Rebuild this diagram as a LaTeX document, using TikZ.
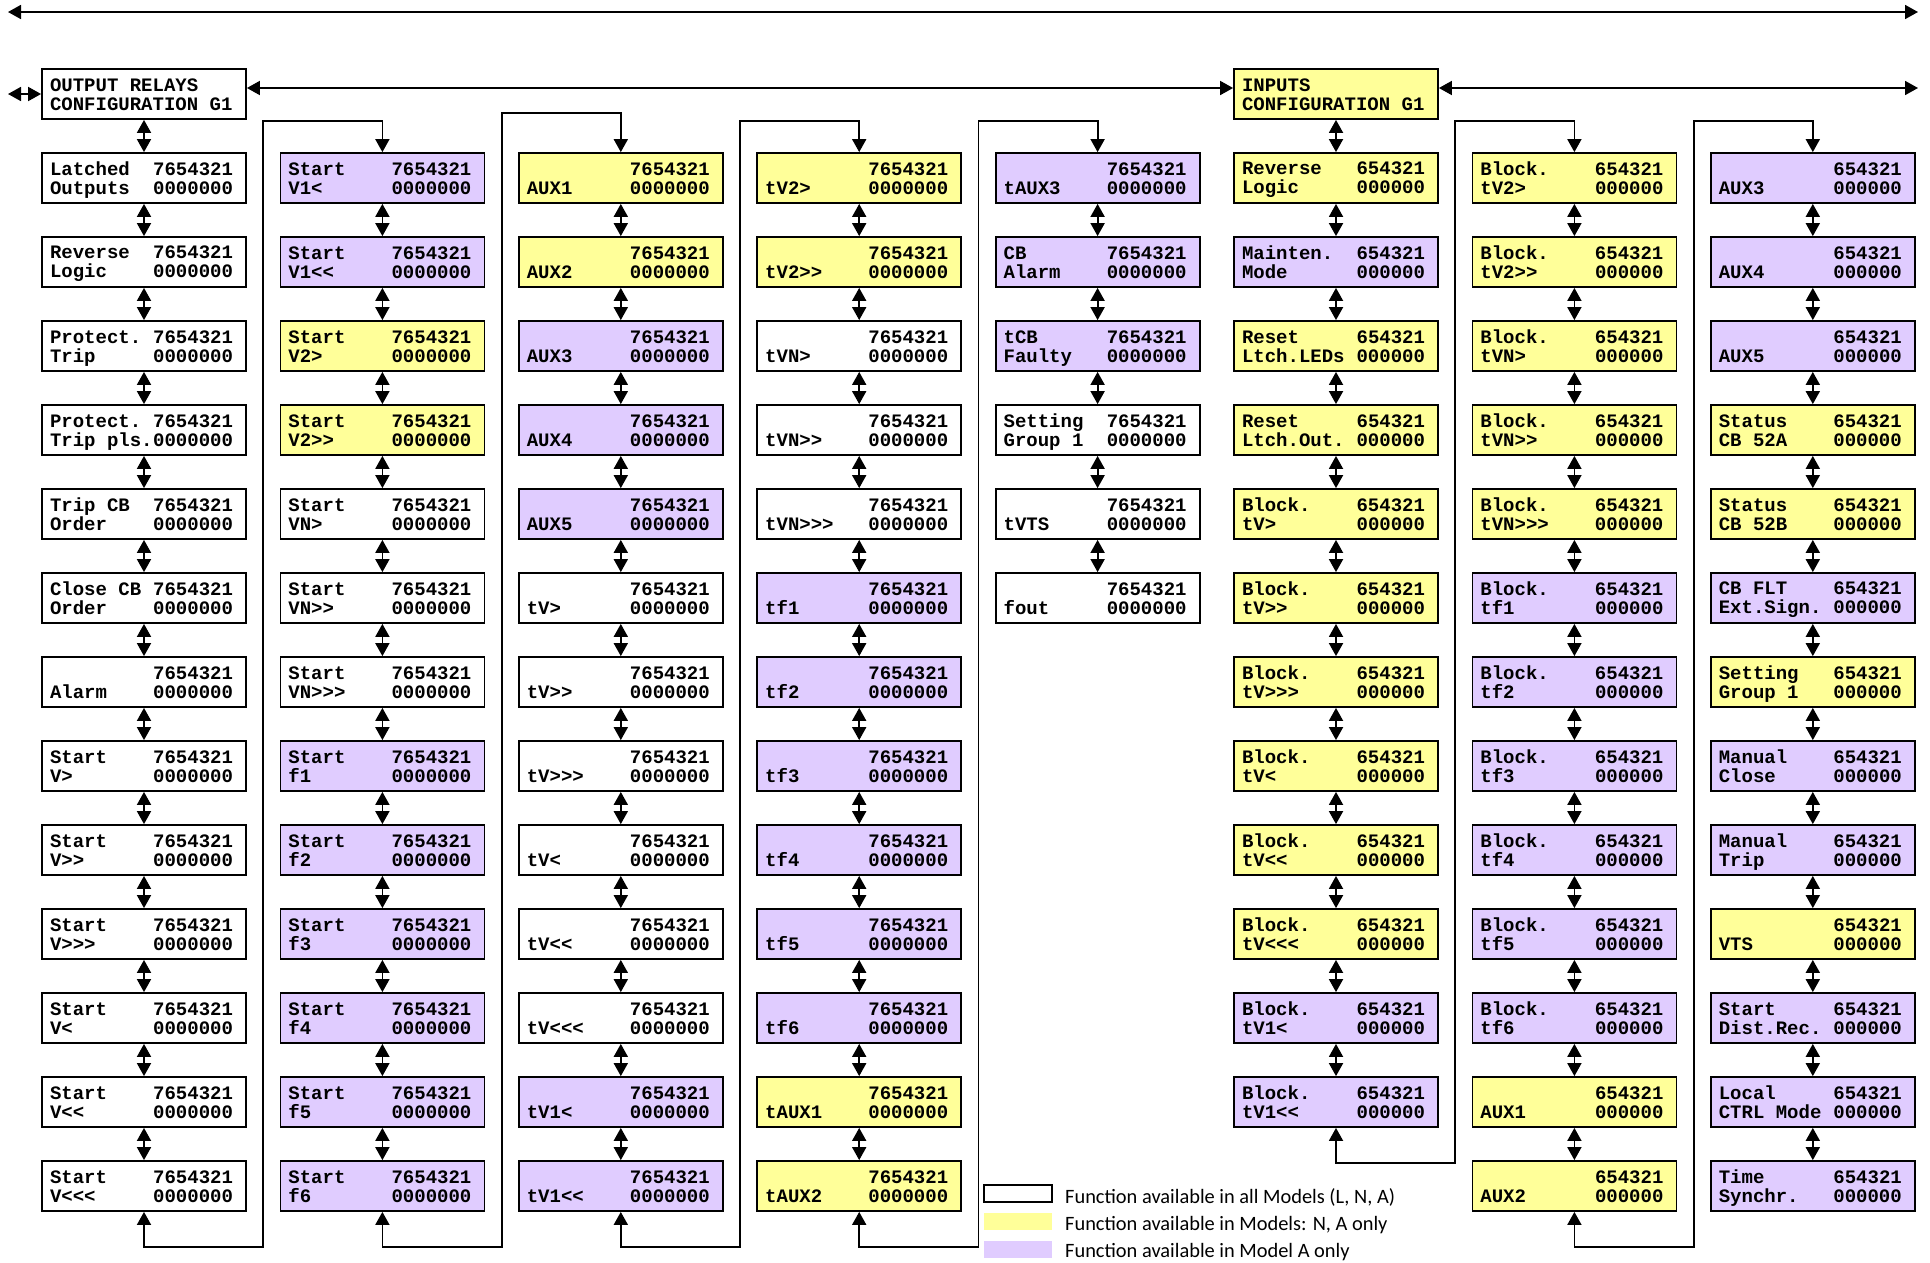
\documentclass[tikz,border=0pt]{standalone}
\usepackage{fontspec}
\setmonofont{Liberation Mono}
\newfontfamily\legfont{Carlito}
\usetikzlibrary{arrows.meta}
\definecolor{cyel}{RGB}{255,255,153}
\definecolor{cpur}{RGB}{224,204,255}
\tikzset{
  cell/.style={draw, line width=1.8pt, minimum width=204pt, minimum height=50pt, inner sep=0pt,
    align=left, font=\fontsize{19}{19}\selectfont\ttfamily\bfseries},
  W/.style={fill=white},
  Y/.style={fill=cyel},
  P/.style={fill=cpur},
  dbl/.style={line width=1.8pt, {Triangle[length=13pt,width=14pt]}-{Triangle[length=13pt,width=14pt]}},
  legbox/.style={minimum width=68pt, minimum height=17pt, inner sep=0pt},
  legtext/.style={anchor=base west, inner sep=0pt, font=\fontsize{20.4}{20.4}\selectfont\legfont}
}
\newcommand{\lnA}[2]{\hbox to188pt{\vrule height17pt width0pt #1\hfill #2\kern5pt}}
\newcommand{\lnB}[2]{\hbox to188pt{\vrule depth4pt height0pt width0pt #1\hfill #2\kern5pt}}
% 7-digit cell
\newcommand{\ca}[5]{\node[cell,#3] (c#1r#2) at ({144+238.4*(#1-1)},{178+84*(#2-1)})
  {\lnA{#4}{7654321}\\\lnB{#5}{0000000}};}
% 6-digit cell
\newcommand{\cb}[5]{\node[cell,#3] (c#1r#2) at ({144+238.4*(#1-1)},{178+84*(#2-1)})
  {\lnA{#4}{654321}\\\lnB{#5}{000000}};}
\begin{document}
\begin{tikzpicture}[x=1pt,y=-1pt]
\useasboundingbox (0,0) rectangle (1930,1262);
% headers
\node[cell,W] (hdr1) at (144,94) {\lnA{OUTPUT RELAYS}{}\\\lnB{CONFIGURATION G1}{}};
\node[cell,Y] (hdr2) at ({144+238.4*5},94) {\lnA{INPUTS}{}\\\lnB{CONFIGURATION G1}{}};
% column 1
\ca{1}{1}{W}{Latched}{Outputs}
\ca{1}{2}{W}{Reverse}{Logic}
\ca{1}{3}{W}{Protect.}{Trip}
\ca{1}{4}{W}{Protect.}{Trip pls.}
\ca{1}{5}{W}{Trip CB}{Order}
\ca{1}{6}{W}{Close CB}{Order}
\ca{1}{7}{W}{}{Alarm}
\ca{1}{8}{W}{Start}{V>}
\ca{1}{9}{W}{Start}{V>>}
\ca{1}{10}{W}{Start}{V>>>}
\ca{1}{11}{W}{Start}{V<}
\ca{1}{12}{W}{Start}{V<<}
\ca{1}{13}{W}{Start}{V<<<}
% column 2
\ca{2}{1}{P}{Start}{V1<}
\ca{2}{2}{P}{Start}{V1<<}
\ca{2}{3}{Y}{Start}{V2>}
\ca{2}{4}{Y}{Start}{V2>>}
\ca{2}{5}{W}{Start}{VN>}
\ca{2}{6}{W}{Start}{VN>>}
\ca{2}{7}{W}{Start}{VN>>>}
\ca{2}{8}{P}{Start}{f1}
\ca{2}{9}{P}{Start}{f2}
\ca{2}{10}{P}{Start}{f3}
\ca{2}{11}{P}{Start}{f4}
\ca{2}{12}{P}{Start}{f5}
\ca{2}{13}{P}{Start}{f6}
% column 3
\ca{3}{1}{Y}{}{AUX1}
\ca{3}{2}{Y}{}{AUX2}
\ca{3}{3}{P}{}{AUX3}
\ca{3}{4}{P}{}{AUX4}
\ca{3}{5}{P}{}{AUX5}
\ca{3}{6}{W}{}{tV>}
\ca{3}{7}{W}{}{tV>>}
\ca{3}{8}{W}{}{tV>>>}
\ca{3}{9}{W}{}{tV<}
\ca{3}{10}{W}{}{tV<<}
\ca{3}{11}{W}{}{tV<<<}
\ca{3}{12}{P}{}{tV1<}
\ca{3}{13}{P}{}{tV1<<}
% column 4
\ca{4}{1}{Y}{}{tV2>}
\ca{4}{2}{Y}{}{tV2>>}
\ca{4}{3}{W}{}{tVN>}
\ca{4}{4}{W}{}{tVN>>}
\ca{4}{5}{W}{}{tVN>>>}
\ca{4}{6}{P}{}{tf1}
\ca{4}{7}{P}{}{tf2}
\ca{4}{8}{P}{}{tf3}
\ca{4}{9}{P}{}{tf4}
\ca{4}{10}{P}{}{tf5}
\ca{4}{11}{P}{}{tf6}
\ca{4}{12}{Y}{}{tAUX1}
\ca{4}{13}{Y}{}{tAUX2}
% column 5
\ca{5}{1}{P}{}{tAUX3}
\ca{5}{2}{P}{CB}{Alarm}
\ca{5}{3}{P}{tCB}{Faulty}
\ca{5}{4}{W}{Setting}{Group 1}
\ca{5}{5}{W}{}{tVTS}
\ca{5}{6}{W}{}{fout}
% column 6
\cb{6}{1}{Y}{Reverse}{Logic}
\cb{6}{2}{P}{Mainten.}{Mode}
\cb{6}{3}{Y}{Reset}{Ltch.LEDs}
\cb{6}{4}{Y}{Reset}{Ltch.Out.}
\cb{6}{5}{Y}{Block.}{tV>}
\cb{6}{6}{Y}{Block.}{tV>>}
\cb{6}{7}{Y}{Block.}{tV>>>}
\cb{6}{8}{Y}{Block.}{tV<}
\cb{6}{9}{Y}{Block.}{tV<<}
\cb{6}{10}{Y}{Block.}{tV<<<}
\cb{6}{11}{P}{Block.}{tV1<}
\cb{6}{12}{P}{Block.}{tV1<<}
% column 7
\cb{7}{1}{Y}{Block.}{tV2>}
\cb{7}{2}{Y}{Block.}{tV2>>}
\cb{7}{3}{Y}{Block.}{tVN>}
\cb{7}{4}{Y}{Block.}{tVN>>}
\cb{7}{5}{Y}{Block.}{tVN>>>}
\cb{7}{6}{P}{Block.}{tf1}
\cb{7}{7}{P}{Block.}{tf2}
\cb{7}{8}{P}{Block.}{tf3}
\cb{7}{9}{P}{Block.}{tf4}
\cb{7}{10}{P}{Block.}{tf5}
\cb{7}{11}{P}{Block.}{tf6}
\cb{7}{12}{Y}{}{AUX1}
\cb{7}{13}{Y}{}{AUX2}
% column 8
\cb{8}{1}{P}{}{AUX3}
\cb{8}{2}{P}{}{AUX4}
\cb{8}{3}{P}{}{AUX5}
\cb{8}{4}{Y}{Status}{CB 52A}
\cb{8}{5}{Y}{Status}{CB 52B}
\cb{8}{6}{P}{CB FLT}{Ext.Sign.}
\cb{8}{7}{Y}{Setting}{Group 1}
\cb{8}{8}{P}{Manual}{Close}
\cb{8}{9}{P}{Manual}{Trip}
\cb{8}{10}{Y}{}{VTS}
\cb{8}{11}{P}{Start}{Dist.Rec.}
\cb{8}{12}{P}{Local}{CTRL Mode}
\cb{8}{13}{P}{Time}{Synchr.}
% vertical double arrows within columns
\foreach \ci/\nn in {1/12,2/12,3/12,4/12,5/5,6/11,7/12,8/12}{
  \foreach \ri in {1,...,\nn}{
    \pgfmathtruncatemacro\rj{\ri+1}
    \draw[dbl] (c\ci r\ri.south) -- (c\ci r\rj.north);
  }
}
\draw[dbl] (hdr1.south) -- (c1r1.north);
\draw[dbl] (hdr2.south) -- (c6r1.north);
% column-to-column loops
\coordinate (a1) at (263.2,1247); \coordinate (b1) at (263.2,121);
\coordinate (a2) at (501.6,1247); \coordinate (b2) at (501.6,113);
\coordinate (a3) at (740,1247);   \coordinate (b3) at (740,121);
\coordinate (a4) at (978.4,1247); \coordinate (b4) at (978.4,121);
\coordinate (a6) at (1455.2,1163); \coordinate (b6) at (1455.2,121);
\coordinate (a7) at (1693.6,1247); \coordinate (b7) at (1693.6,121);
\draw[dbl] (c1r13.south) |- (a1) -- (b1) -| (c2r1.north);
\draw[dbl] (c2r13.south) |- (a2) -- (b2) -| (c3r1.north);
\draw[dbl] (c3r13.south) |- (a3) -- (b3) -| (c4r1.north);
\draw[dbl] (c4r13.south) |- (a4) -- (b4) -| (c5r1.north);
\draw[dbl] (c6r12.south) |- (a6) -- (b6) -| (c7r1.north);
\draw[dbl] (c7r13.south) |- (a7) -- (b7) -| (c8r1.north);
% header level arrows
\coordinate (tl) at (8,12); \coordinate (tr) at (1918,12);
\draw[dbl] (tl) -- (tr);
\coordinate (hl) at (8,94);
\draw[dbl] (hl) -- (hdr1.west);
\draw[dbl] ([yshift=6pt]hdr1.east) -- ([yshift=6pt]hdr2.west);
\coordinate (hr) at (1918,88);
\draw[dbl] ([yshift=6pt]hdr2.east) -- (hr);
% legend
\node[legbox, draw, line width=1.5pt, fill=white] (lg1) at (1018,1193.5) {};
\node[legbox, fill=cyel] (lg2) at (1018,1221) {};
\node[legbox, fill=cpur] (lg3) at (1018,1249) {};
\node[legtext] (lt1) at (1065,1203) {Function available in all Models (L, N, A)};
\node[legtext] (lt2) at (1065,1230) {Function available in Models: N, A only};
\node[legtext] (lt3) at (1065,1257) {Function available in Model A only};
\end{tikzpicture}
\end{document}
